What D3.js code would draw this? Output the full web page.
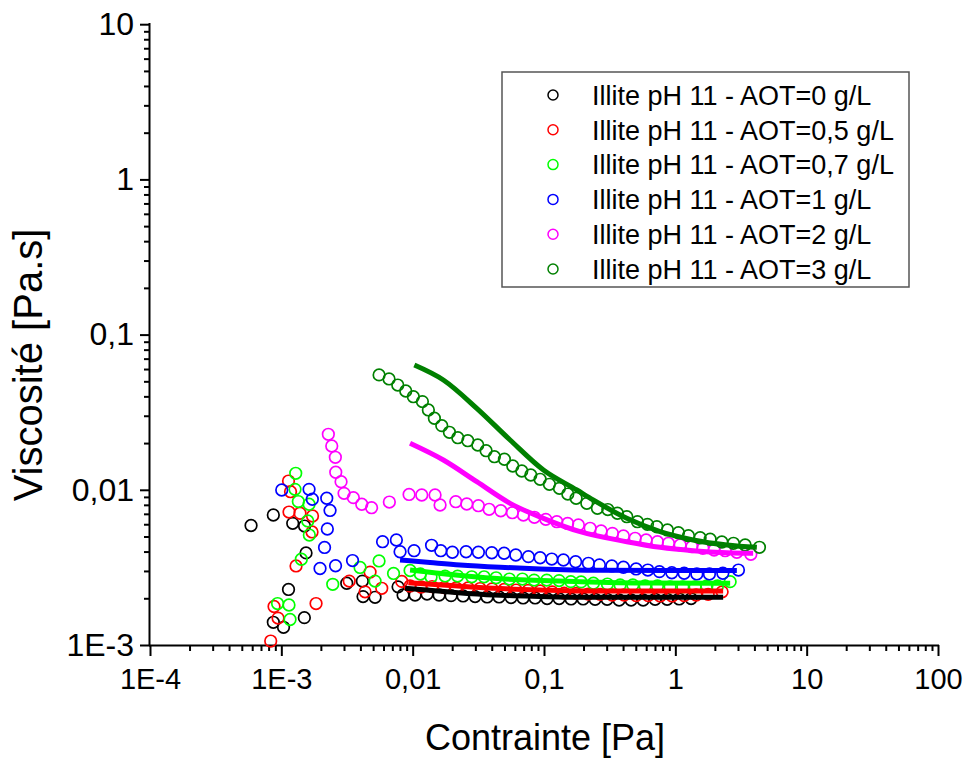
<!DOCTYPE html>
<html><head><meta charset="utf-8">
<script src="https://cdn.jsdelivr.net/npm/d3@7"></script>
<style>
body{margin:0;background:#fff;}
svg{display:block;font-family:"Liberation Sans",Arial,sans-serif;}
</style>
</head><body>
<svg id="c" width="968" height="761"></svg>
<script>
// ---------- data ----------
const seriesNames = [
  "Illite pH 11 - AOT=0 g/L",
  "Illite pH 11 - AOT=0,5 g/L",
  "Illite pH 11 - AOT=0,7 g/L",
  "Illite pH 11 - AOT=1 g/L",
  "Illite pH 11 - AOT=2 g/L",
  "Illite pH 11 - AOT=3 g/L"
];
const seriesColors = ["#000000", "#ff0000", "#00ff00", "#0000ff", "#ff00ff", "#008000"];

// AOT = 0 g/L
const aot0X = [5.88e-4, 8.69e-4, 1.221e-3, 1.502e-3, 1.542e-3, 1.134e-3, 8.69e-4, 1.039e-3, 1.497e-3, 3.148e-3, 4.14e-3, 4.19e-3, 5.171e-3, 7.742e-3, 8.452e-3,
  0.01043, 0.01287, 0.01589, 0.01961, 0.0242, 0.02987, 0.03687, 0.0455, 0.05616, 0.06931, 0.08556, 0.1056, 0.1303, 0.1608, 0.1985, 0.245, 0.3024, 0.3733, 0.4607, 0.5686, 0.7017, 0.866, 1.069, 1.319];
const aot0Y = [0.00589, 0.00688, 0.00608, 0.00584, 0.00392, 0.00228, 0.0014, 0.0013, 0.0015, 0.0025, 0.00258, 0.00205, 0.00203, 0.00237, 0.0021,
  0.0021, 0.00213, 0.0021, 0.00208, 0.00207, 0.00205, 0.00204, 0.00204, 0.00202, 0.00201, 0.00201, 0.00199, 0.00199, 0.00198, 0.00198, 0.00197, 0.00197, 0.00195, 0.00195, 0.00195, 0.00197, 0.00197, 0.00198, 0.00199];

// AOT = 0,5 g/L
const aot05X = [1.134e-3, 1.175e-3, 1.144e-3, 1.388e-3, 1.728e-3, 1.713e-3, 1.294e-3, 3.289e-3, 1.838e-3, 8.80e-4, 9.44e-4, 8.30e-4, 4.738e-3, 4.34e-3, 5.815e-3, 8.26e-3,
  0.00955, 0.01159, 0.01405, 0.01734, 0.0214, 0.02642, 0.0326, 0.04024, 0.04968, 0.06132, 0.07566, 0.0934, 0.1153, 0.1423, 0.1756, 0.2167, 0.2675, 0.3301, 0.4074, 0.5029, 0.6207, 0.766, 0.9454, 1.167, 1.44, 1.778, 2.272];
const aot05Y = [0.01139, 0.00972, 0.00719, 0.00706, 0.00678, 0.00535, 0.00323, 0.00258, 0.00185, 0.00177, 0.00149, 0.00106, 0.00295, 0.0022, 0.00232, 0.00257,
  0.0024, 0.002365, 0.00238, 0.002346, 0.00233, 0.00233, 0.00231, 0.0023, 0.00228, 0.00226, 0.002245, 0.00223, 0.0022, 0.00216, 0.00215, 0.00213, 0.00212, 0.0021, 0.0021, 0.00208, 0.00208, 0.00207, 0.00207, 0.00208, 0.0021, 0.00212, 0.0022];

// AOT = 0,7 g/L
const aot07X = [1.287e-3, 1.271e-3, 1.347e-3, 1.626e-3, 1.589e-3, 1.634e-3, 1.42e-3, 2.463e-3, 9.36e-4, 1.144e-3, 1.165e-3, 3.976e-3, 5.547e-3, 5.171e-3, 7.152e-3, 9.555e-3,
  0.01144, 0.01381, 0.01765, 0.02198, 0.02818, 0.03498, 0.04317, 0.05451, 0.06846, 0.08406, 0.105, 0.1303, 0.16, 0.1917, 0.2378, 0.304, 0.3798, 0.4746, 0.5888, 0.7306, 0.9128, 1.141, 1.415, 1.738, 2.092, 2.615];
const aot07Y = [0.01277, 0.01007, 0.0084, 0.00807, 0.0063, 0.00511, 0.00357, 0.00246, 0.00185, 0.00181, 0.00146, 0.00316, 0.00348, 0.00258, 0.00289, 0.00302,
  0.00287, 0.00274, 0.00278, 0.00278, 0.00275, 0.00275, 0.00271, 0.00266, 0.00266, 0.00262, 0.00262, 0.0026, 0.00256, 0.00255, 0.0025, 0.00247, 0.00244, 0.00244, 0.0024, 0.0024, 0.00237, 0.00237, 0.00237, 0.0024, 0.0024, 0.00256];

// AOT = 1 g/L
const aot1X = [1.007e-3, 1.626e-3, 1.722e-3, 2.217e-3, 2.349e-3, 2.24e-3, 2.133e-3, 1.971e-3, 2.587e-3, 3.485e-3, 5.899e-3, 7.515e-3, 8.017e-3,
  0.01025, 0.01393, 0.01637, 0.02006, 0.02551, 0.03165, 0.04003, 0.04968, 0.06099, 0.07606, 0.0934, 0.1146, 0.1405, 0.1741, 0.2178, 0.2642, 0.3284, 0.4024, 0.5029, 0.6175, 0.7566, 0.9404, 1.167, 1.458, 1.818, 2.3, 3.024];
const aot1Y = [0.00997, 0.01007, 0.00869, 0.00882, 0.00736, 0.00559, 0.00425, 0.00311, 0.00324, 0.0035, 0.00463, 0.00475, 0.00399,
  0.00405, 0.00439, 0.00405, 0.00396, 0.00399, 0.00396, 0.00393, 0.0039, 0.0038, 0.00371, 0.00365, 0.00358, 0.00353, 0.00344, 0.00336, 0.00328, 0.00323, 0.00317, 0.00309, 0.00304, 0.00297, 0.00292, 0.0029, 0.00287, 0.00287, 0.0029, 0.00304];

// AOT = 2 g/L
const aot2X = [2.28e-3, 2.42e-3, 2.578e-3, 2.596e-3, 2.849e-3, 3.003e-3, 3.535e-3, 4.096e-3, 4.864e-3, 6.645e-3, 9.39e-3,
  0.01173, 0.01481, 0.01617, 0.02129, 0.02582, 0.03165, 0.03819, 0.04688, 0.05743, 0.06967, 0.08452, 0.1032, 0.1252, 0.1513, 0.1828, 0.2245, 0.2722, 0.3318, 0.4024, 0.4942, 0.5992, 0.7306, 0.886, 1.088, 1.336, 1.62, 1.974, 2.395, 2.94, 3.758];
const aot2Y = [0.02279, 0.01915, 0.0162, 0.01297, 0.01128, 0.00949, 0.0089, 0.00807, 0.00767, 0.00834, 0.00933,
  0.00926, 0.00926, 0.00798, 0.00838, 0.0081, 0.0079, 0.00749, 0.00733, 0.00712, 0.00688, 0.00665, 0.00645, 0.00623, 0.00607, 0.00593, 0.00565, 0.00543, 0.00524, 0.00504, 0.00487, 0.00475, 0.00463, 0.00452, 0.00441, 0.0043, 0.0042, 0.00409, 0.00405, 0.00396, 0.00384];

// AOT = 3 g/L
const aot3X = [5.55e-3, 6.61e-3, 7.70e-3, 8.86e-3, 0.01012, 0.01186, 0.01317, 0.01463, 0.01666, 0.01904, 0.02206, 0.02629, 0.03131, 0.03623, 0.0419, 0.04994, 0.05785, 0.06775, 0.07934, 0.0934,
  0.1099, 0.131, 0.1518, 0.1756, 0.2118, 0.2551, 0.3061, 0.3623, 0.4272, 0.5144, 0.6132, 0.7229, 0.8706, 1.056, 1.258, 1.545, 1.841, 2.261, 2.77, 3.401, 4.37];
const aot3Y = [0.055, 0.0518, 0.0473, 0.0433, 0.0398, 0.037, 0.0327, 0.0289, 0.0259, 0.02347, 0.02166, 0.02072, 0.01944, 0.01786, 0.01634, 0.01573, 0.01424, 0.01322, 0.01246, 0.01169,
  0.01085, 0.01022, 0.00939, 0.00882, 0.00818, 0.0076, 0.00746, 0.00706, 0.00671, 0.00623, 0.00599, 0.00578, 0.00551, 0.00529, 0.00506, 0.00491, 0.0048, 0.00461, 0.00452, 0.00441, 0.00426];

// fitted curves (solid lines)
const fit0X = [0.008752, 0.01927, 0.04118, 0.0934, 0.1884, 0.6428, 2.312];
const fit0Y = [0.00232, 0.002195, 0.0021, 0.002054, 0.00203, 0.00203, 0.00203];
const fit05X = [0.009275, 0.01927, 0.04118, 0.0934, 0.1884, 0.6428, 2.312];
const fit05Y = [0.00252, 0.002416, 0.00232, 0.002261, 0.002228, 0.002228, 0.002228];
const fit07X = [0.009555, 0.04096, 0.1884, 0.6428, 2.615];
const fit07Y = [0.00304, 0.00269, 0.00256, 0.00251, 0.0025];
const fit1X = [0.008017, 0.01357, 0.02296, 0.04631, 0.0934, 0.2675, 1.088, 2.94];
const fit1Y = [0.00353, 0.0034, 0.00328, 0.00317, 0.00309, 0.00303, 0.00302, 0.00302];
const fit2X = [0.00955, 0.01713, 0.03077, 0.0552, 0.099, 0.1884, 0.4272, 0.766, 1.366, 2.467, 3.913];
const fit2Y = [0.01994, 0.01556, 0.01128, 0.00818, 0.00655, 0.00537, 0.00463, 0.00426, 0.00405, 0.00393, 0.0039];
const fit3X = [0.0103, 0.01713, 0.03077, 0.0552, 0.099, 0.1778, 0.2366, 0.4272, 0.766, 1.366, 2.467, 4.175];
const fit3Y = [0.0637, 0.051, 0.0335, 0.02094, 0.01342, 0.00997, 0.0086, 0.00655, 0.00537, 0.00475, 0.00441, 0.00426];

const xTickValues = [1e-4, 1e-3, 0.01, 0.1, 1, 10, 100];
const xTickLabels = ["1E-4", "1E-3", "0,01", "0,1", "1", "10", "100"];
const yTickValues = [1e-3, 0.01, 0.1, 1, 10];
const yTickLabels = ["1E-3", "0,01", "0,1", "1", "10"];
const xTitle = "Contrainte [Pa]";
const yTitle = "Viscosité [Pa.s]";

// ---------- build ----------
const pointSets = [[aot0X, aot0Y], [aot05X, aot05Y], [aot07X, aot07Y], [aot1X, aot1Y], [aot2X, aot2Y], [aot3X, aot3Y]];
const fitSets = [[fit0X, fit0Y], [fit05X, fit05Y], [fit07X, fit07Y], [fit1X, fit1Y], [fit2X, fit2Y], [fit3X, fit3Y]];
const series = seriesNames.map((name, i) => ({
  name, color: seriesColors[i],
  points: d3.zip(pointSets[i][0], pointSets[i][1]),
  fit: d3.zip(fitSets[i][0], fitSets[i][1])
}));

const svg = d3.select("#c");
const x = d3.scaleLog().domain([1e-4, 100]).range([150, 938]);
const y = d3.scaleLog().domain([1e-3, 10]).range([645, 24.2]);

function minorTicks(scale) {
  const [a, b] = scale.domain();
  const out = [];
  for (let e = Math.round(Math.log10(a)); e < Math.round(Math.log10(b)); e++) {
    for (let m = 2; m <= 9; m++) out.push(m * Math.pow(10, e));
  }
  return out;
}

// minor ticks
svg.append("g").attr("transform", "translate(0,645)")
  .call(d3.axisBottom(x).tickValues(minorTicks(x)).tickSize(6).tickSizeOuter(0).tickFormat(""))
  .call(g => g.select(".domain").remove())
  .call(g => g.selectAll("line").attr("stroke", "#000").attr("stroke-width", 2));
svg.append("g").attr("transform", "translate(150,0)")
  .call(d3.axisLeft(y).tickValues(minorTicks(y)).tickSize(6).tickSizeOuter(0).tickFormat(""))
  .call(g => g.select(".domain").remove())
  .call(g => g.selectAll("line").attr("stroke", "#000").attr("stroke-width", 2));

// major axes
const xAxis = svg.append("g").attr("transform", "translate(0,645)")
  .call(d3.axisBottom(x).tickValues(xTickValues).tickSize(11).tickSizeOuter(0)
    .tickFormat((d, i) => xTickLabels[i]).tickPadding(12));
xAxis.select(".domain").attr("stroke", "#000").attr("stroke-width", 2).attr("d", "M149,0.5H939");
xAxis.selectAll("line").attr("stroke", "#000").attr("stroke-width", 2);
xAxis.selectAll("text").attr("font-size", 29).attr("font-family", "Liberation Sans, Arial, sans-serif").attr("fill", "#000");

const yAxis = svg.append("g").attr("transform", "translate(150,0)")
  .call(d3.axisLeft(y).tickValues(yTickValues).tickSize(10).tickSizeOuter(0)
    .tickFormat((d, i) => yTickLabels[i]).tickPadding(6));
yAxis.select(".domain").attr("stroke", "#000").attr("stroke-width", 2).attr("d", "M-0.5,23H-0.5V646");
yAxis.selectAll("line").attr("stroke", "#000").attr("stroke-width", 2);
yAxis.selectAll("text").attr("font-size", 32).attr("font-family", "Liberation Sans, Arial, sans-serif").attr("fill", "#000");

// titles
svg.append("text").attr("x", 545).attr("y", 750).attr("text-anchor", "middle")
  .attr("font-size", 36).text(xTitle);
svg.append("text").attr("transform", "translate(42,365) rotate(-90)").attr("text-anchor", "middle")
  .attr("font-size", 40).text(yTitle);

// points
series.forEach(s => {
  svg.append("g").selectAll("circle").data(s.points).join("circle")
    .attr("cx", d => x(d[0])).attr("cy", d => y(d[1])).attr("r", 5.8)
    .attr("fill", "none").attr("stroke", s.color).attr("stroke-width", 1.7);
});

// fit lines
const line = d3.line().x(d => x(d[0])).y(d => y(d[1])).curve(d3.curveMonotoneX);
series.forEach(s => {
  svg.append("path").datum(s.fit).attr("d", line)
    .attr("fill", "none").attr("stroke", s.color).attr("stroke-width", 5);
});

// legend
const lg = svg.append("g");
lg.append("rect").attr("x", 502).attr("y", 72).attr("width", 407).attr("height", 215)
  .attr("fill", "#fff").attr("stroke", "#555").attr("stroke-width", 1.5);
series.forEach((s, i) => {
  const cy = 95 + i * 34.8;
  lg.append("circle").attr("cx", 553).attr("cy", cy).attr("r", 5)
    .attr("fill", "none").attr("stroke", s.color).attr("stroke-width", 1.5);
  lg.append("text").attr("x", 592).attr("y", cy).attr("dy", "0.36em")
    .attr("font-size", 27).attr("fill", "#000").text(s.name);
});
</script>
</body></html>
